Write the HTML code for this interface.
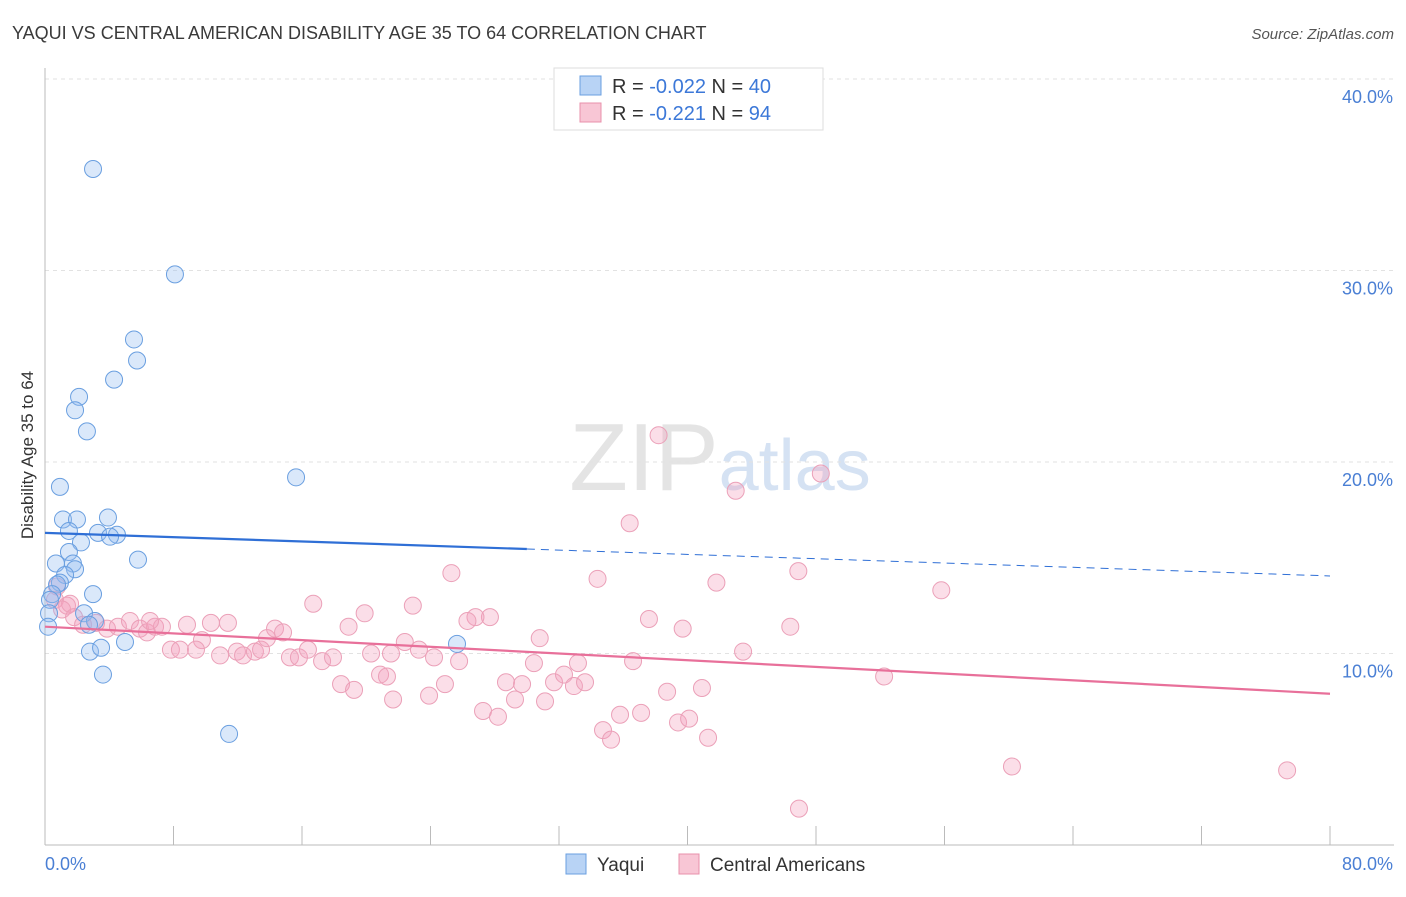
<!DOCTYPE html>
<html><head><meta charset="utf-8"><style>
body{margin:0;background:#fff;font-family:"Liberation Sans",sans-serif;}
svg text{font-family:"Liberation Sans",sans-serif;}
</style></head><body>
<svg id="chart" width="1406" height="892" xmlns="http://www.w3.org/2000/svg">
<text x="12" y="39" font-size="18" fill="#3a3a3a">YAQUI VS CENTRAL AMERICAN DISABILITY AGE 35 TO 64 CORRELATION CHART</text>
<text x="1394" y="39" font-size="15" fill="#555" text-anchor="end" font-style="italic">Source: ZipAtlas.com</text>
<text x="720" y="490" font-size="96" fill="#e4e4e4" text-anchor="middle" font-family="Liberation Serif">ZIP<tspan fill="#d5e2f3" font-family="Liberation Sans" font-size="72">atlas</tspan></text>
<g id="grid"></g>
<g id="axes"></g>
<text transform="translate(33,455) rotate(-90)" font-size="17" fill="#333" text-anchor="middle">Disability Age 35 to 64</text>
<g id="points"></g>
<g id="lines"></g>
<g>
<rect x="554" y="68" width="269" height="62" fill="#fff" stroke="#ddd"/>
<rect x="580" y="76" width="21" height="19" fill="#b8d3f5" stroke="#6a9fe0"/>
<text x="612" y="93" font-size="20" fill="#333">R = <tspan fill="#3c78d8">-0.022</tspan>   N = <tspan fill="#3c78d8">40</tspan></text>
<rect x="580" y="103" width="21" height="19" fill="#f8c6d5" stroke="#e890ab"/>
<text x="612" y="120" font-size="20" fill="#333">R =  <tspan fill="#3c78d8">-0.221</tspan>   N =  <tspan fill="#3c78d8">94</tspan></text>
</g>
<g>
<rect x="566" y="854" width="20" height="20" fill="#b8d3f5" stroke="#6a9fe0"/>
<text x="597" y="871" font-size="19" fill="#333">Yaqui</text>
<rect x="679" y="854" width="20" height="20" fill="#f8c6d5" stroke="#e890ab"/>
<text x="710" y="871" font-size="19" fill="#333">Central Americans</text>
</g>
</svg>
<script>
const yaquiX=[2.99,8.09,5.54,5.73,4.30,2.12,1.87,2.61,15.63,0.93,1.12,1.99,3.92,1.49,3.30,4.48,4.05,2.24,1.49,5.79,0.68,1.74,1.87,1.25,0.93,0.75,0.44,2.99,0.31,0.25,2.43,3.11,2.74,0.19,4.98,2.80,3.49,25.65,3.61,11.46];
const yaquiY=[35.3,29.8,26.4,25.3,24.3,23.4,22.7,21.6,19.2,18.7,17.0,17.0,17.1,16.4,16.3,16.2,16.1,15.8,15.3,14.9,14.7,14.7,14.4,14.1,13.7,13.6,13.1,13.1,12.8,12.1,12.1,11.7,11.5,11.4,10.6,10.1,10.3,10.5,8.9,5.8];
const centralX=[38.2,48.3,43.0,36.4,25.3,34.4,41.8,46.9,55.8,16.7,19.9,22.9,27.7,26.8,26.3,37.6,39.7,46.4,30.8,18.9,22.4,0.75,0.62,1.37,1.56,1.06,1.81,2.37,3.18,3.86,4.54,5.29,5.91,6.35,6.85,7.28,8.84,9.77,10.33,11.39,7.84,8.40,9.40,10.90,11.95,12.33,13.07,13.45,13.82,14.32,14.82,15.25,15.81,16.37,17.25,17.93,20.30,21.54,23.28,24.22,25.78,30.44,33.18,36.61,43.46,18.43,19.24,20.86,21.29,24.90,28.70,29.70,31.69,32.31,32.93,33.62,21.67,23.91,29.26,31.13,27.27,28.20,35.80,37.11,38.73,40.90,52.24,34.74,35.24,39.41,40.10,41.28,60.20,77.33,46.94,6.54];
const centralY=[21.4,19.4,18.5,16.8,14.2,13.9,13.7,14.3,13.3,12.6,12.1,12.5,11.9,11.9,11.7,11.8,11.3,11.4,10.8,11.4,10.6,13.5,12.8,12.5,12.6,12.3,11.9,11.5,11.6,11.3,11.4,11.7,11.3,11.1,11.4,11.4,11.5,10.7,11.6,11.6,10.2,10.2,10.2,9.9,10.1,9.9,10.1,10.2,10.8,11.3,11.1,9.8,9.8,10.2,9.6,9.8,10.0,10.0,10.2,9.8,9.6,9.5,9.5,9.6,10.1,8.4,8.1,8.9,8.8,8.4,8.5,8.4,8.5,8.9,8.3,8.5,7.6,7.8,7.6,7.5,7.0,6.7,6.8,6.9,8.0,8.2,8.8,6.0,5.5,6.4,6.6,5.6,4.1,3.9,1.9,11.7];
const yTicks=[10,20,30,40];
const xTickLabels=["0.0%","80.0%"];
const trendYaqui=[16.3,14.05];
const trendCentral=[11.4,7.9];

const NS="http://www.w3.org/2000/svg";
const X0=45,X1=1330,Y0=845,PPY=19.15;
function sx(v){return X0+(v/80)*(X1-X0);}
function sy(v){return Y0-v*PPY;}
function mk(tag,attrs,parent){const e=document.createElementNS(NS,tag);for(const k in attrs)e.setAttribute(k,attrs[k]);document.getElementById(parent).appendChild(e);return e;}

yTicks.forEach(t=>{
  const l=mk('line',{x1:X0,x2:1394,y1:sy(t),y2:sy(t),stroke:'#e2e2e2','stroke-dasharray':'4,4'},'grid');
  
  
  const tx=mk('text',{x:1393,y:sy(t)+24,'font-size':18,fill:'#4a7fd4','text-anchor':'end'},'grid');
  tx.textContent=t.toFixed(1)+'%';
  
  
});
const ax=mk('line',{x1:X0,x2:X0,y1:68,y2:Y0,stroke:'#bbb'},'axes');


const bx=mk('line',{x1:X0,x2:1394,y1:Y0,y2:Y0,stroke:'#bbb'},'axes');


for(let i=0;i<=10;i++){
  const t=mk('line',{x1:sx(i*8),x2:sx(i*8),y1:826,y2:Y0,stroke:'#bbb'},'axes');
  
  
}
const xl0=mk('text',{x:45,y:870,'font-size':18,fill:'#4a7fd4'},'axes');
xl0.textContent=xTickLabels[0];


const xl1=mk('text',{x:1393,y:870,'font-size':18,fill:'#4a7fd4','text-anchor':'end'},'axes');
xl1.textContent=xTickLabels[1];



centralX.forEach((v,i)=>{
  const c=mk('circle',{cx:sx(v),cy:sy(centralY[i]),r:8.5,fill:'rgba(244,160,188,0.35)',stroke:'#eba0b8','stroke-width':1},'points');
  
  
});
yaquiX.forEach((v,i)=>{
  const c=mk('circle',{cx:sx(v),cy:sy(yaquiY[i]),r:8.5,fill:'rgba(150,190,240,0.35)',stroke:'#6a9fe0','stroke-width':1},'points');
  
  
});
function lerp(a,b,x){return a+(b-a)*x/80;}
const l1=mk('line',{x1:sx(0),y1:sy(trendYaqui[0]),x2:sx(30),y2:sy(lerp(trendYaqui[0],trendYaqui[1],30)),stroke:'#2f6fd6','stroke-width':2.2},'lines');


const l2=mk('line',{x1:sx(30),y1:sy(lerp(trendYaqui[0],trendYaqui[1],30)),x2:sx(80),y2:sy(trendYaqui[1]),stroke:'#2f6fd6','stroke-width':1,'stroke-dasharray':'8,6'},'lines');


const l3=mk('line',{x1:sx(0),y1:sy(trendCentral[0]),x2:sx(80),y2:sy(trendCentral[1]),stroke:'#e8709a','stroke-width':2.2},'lines');


</script>
</body></html>
